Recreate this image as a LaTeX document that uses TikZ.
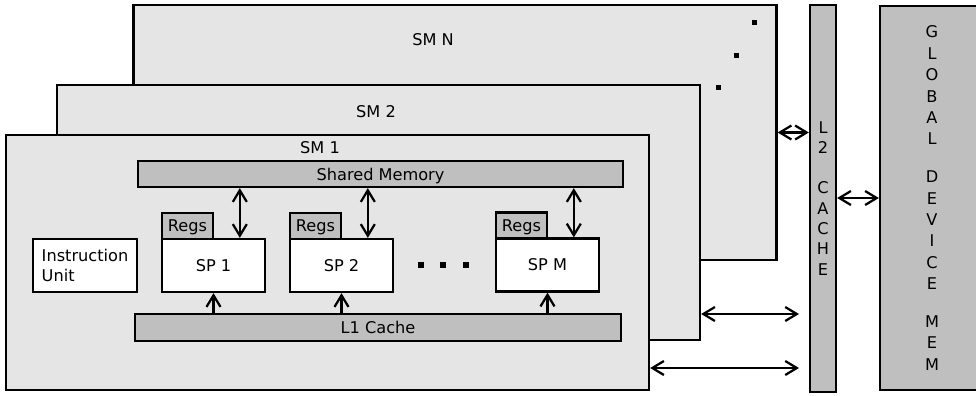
\documentclass[tikz,border=0pt]{standalone}
\usepackage{fontspec}
\setmainfont{DejaVu Sans}
\usetikzlibrary{arrows.meta,calc}
\definecolor{smgray}{HTML}{E5E5E5}
\definecolor{bargray}{HTML}{BFBFBF}
\begin{document}
\begin{tikzpicture}[x=0.25mm,y=-0.25mm,
    every node/.style={font=\fontsize{11.5}{14.5}\selectfont},
    >={Straight Barb[length=2.9mm,width=3.5mm]},
    smbox/.style={draw=black,fill=smgray,line width=1.6pt,minimum width=160.75mm,minimum height=63.75mm},
    barbox/.style={draw=black,fill=bargray,line width=1.6pt,inner sep=0pt,text depth=0pt},
    spbox/.style={draw=black,fill=white,line width=1.6pt,minimum width=25.75mm,minimum height=13.25mm},
    regsbox/.style={barbox,minimum width=12.75mm,minimum height=6.5mm},
    link/.style={<->,line width=1.6pt},
    feed/.style={->,line width=1.6pt},
    dotsq/.style={fill=black,inner sep=0pt,minimum size=#1}]
    \useasboundingbox (0,0) rectangle (976,395);

    % stacked SMs
    \node[smbox] (smN) at (455,132.5) {};
    \node (smNlabel) at (433,40) {SM N};
    \node[dotsq=1.25mm] (dN1) at (754,22) {};
    \node[dotsq=1.25mm] (dN2) at (736,55) {};
    \node[dotsq=1.25mm] (dN3) at (718,87) {};
    \node[smbox] (sm2) at (378.5,212.5) {};
    \node (sm2label) at (376,112) {SM 2};
    \node[smbox] (sm1) at (327.5,262.5) {};
    \node (sm1label) at (320,148) {SM 1};

    % inside SM 1
    \node[barbox,minimum width=121.25mm,minimum height=6.5mm] (shmem) at (380.5,174) {Shared Memory};
    \node[barbox,minimum width=121.5mm,minimum height=6.75mm] (l1) at (378,327.5) {L1 Cache};
    \node[spbox,minimum width=26mm,align=left,font=\fontsize{11.5}{14.2}\selectfont] (iu) at (85,265.5) {Instruction\\Unit};
    \node[spbox] (sp1) at (213.5,265.5) {SP 1};
    \node[regsbox] (regs1) at (187.5,226) {Regs};
    \node[spbox] (sp2) at (341.5,265.5) {SP 2};
    \node[regsbox] (regs2) at (315.5,226) {Regs};
    \node[spbox] (spM) at (547.5,265) {SP M};
    \node[regsbox] (regsM) at (521.5,225.5) {Regs};
    \node[dotsq=1.5mm] (d1) at (421,265) {};
    \node[dotsq=1.5mm] (d2) at (443,265) {};
    \node[dotsq=1.5mm] (d3) at (466,265) {};

    \coordinate (a1) at ($(sp1.north)!.5!(sp1.north east)$);
    \coordinate (a2) at ($(sp2.north)!.5!(sp2.north east)$);
    \coordinate (aM) at ($(spM.north)!.5!(spM.north east)$);
    \draw[link] (a1) -- (a1 |- shmem.south);
    \draw[link] (a2) -- (a2 |- shmem.south);
    \draw[link] (aM) -- (aM |- shmem.south);
    \draw[feed] (l1.north -| sp1) -- (sp1.south);
    \draw[feed] (l1.north -| sp2) -- (sp2.south);
    \draw[feed] (l1.north -| spM) -- (spM.south);

    % caches and memory
    \node[barbox,text depth=,minimum width=6.5mm,minimum height=96.75mm,align=center] (l2) at (823,198.5)
        {L\\2\\[13.9pt]C\\A\\C\\H\\E};
    \node[barbox,text depth=,minimum width=26mm,minimum height=96mm,align=center,font=\fontsize{11.5}{15.2}\selectfont] (gmem) at (932,198)
        {G\\L\\O\\B\\A\\L\\[11.7pt]D\\E\\V\\I\\C\\E\\[11.7pt]M\\E\\M};

    \coordinate (p2) at (799,314);
    \coordinate (p1) at (799,368);
    \draw[link] (smN.east) -- (smN.east -| l2.west);
    \draw[link] (sm2.east |- p2) -- (p2);
    \draw[link] (sm1.east |- p1) -- (p1);
    \draw[link] (l2.east |- gmem.west) -- (gmem.west);
\end{tikzpicture}
\end{document}
